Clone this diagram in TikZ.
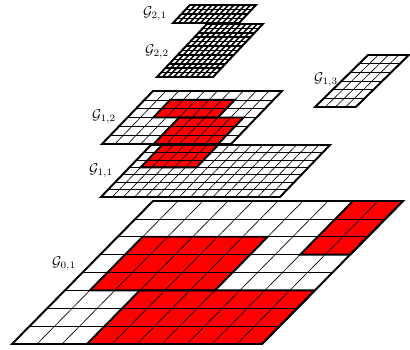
\documentclass[tikz,border=0pt]{standalone}
\usepackage{amsmath}
\begin{document}
\begin{tikzpicture}[
  x=0.25mm, y=0.25mm,
  thin grid/.style={line width=0.45pt},
  dense grid/.style={line width=1.1pt},
  rim/.style={line width=1.4pt},
  patch/.style={fill=red},
  lbl/.style={font=\normalsize, inner sep=0pt}
]
\useasboundingbox (0,0) rectangle (410,349);

\begin{scope}[shift={(12,5)}, xslant=0.986, x=6.25mm, y=4.469mm]
  \fill[patch] (8,5) rectangle (10,8);
  \fill[patch] (1,3) rectangle (6,6);
  \fill[patch] (3,0) rectangle (10,3);
  \foreach \i in {1,...,9} \draw[thin grid] (\i,0) -- (\i,8);
  \foreach \j in {1,...,7} \draw[thin grid] (0,\j) -- (10,\j);
  \draw[rim] (8,5) rectangle (10,8);
  \draw[rim] (1,3) rectangle (6,6);
  \draw[rim] (3,0) rectangle (10,3);
  \draw[rim] (0,0) rectangle (10,8);
\end{scope}

\begin{scope}[shift={(101,152)}, xslant=0.96, x=2.797mm, y=1.857mm]
  \fill[patch] (1,4) rectangle (6,7);
  \foreach \i in {1,...,15} \draw[thin grid] (\i,0) -- (\i,7);
  \foreach \j in {1,...,6} \draw[thin grid] (0,\j) -- (16,\j);
  \draw[rim] (1,4) rectangle (6,7);
  \draw[rim] (0,0) rectangle (16,7);
\end{scope}

\begin{scope}[shift={(102,205)}, xslant=0.962, x=3.225mm, y=2.208mm]
  \fill[patch] (2,3) rectangle (7,5);
  \fill[patch] (4,0) rectangle (9,3);
  \foreach \i in {1,...,9} \draw[thin grid] (\i,0) -- (\i,6);
  \foreach \j in {1,...,5} \draw[thin grid] (0,\j) -- (10,\j);
  \draw[rim] (2,3) rectangle (7,5);
  \draw[rim] (4,0) rectangle (9,3);
  \draw[rim] (0,0) rectangle (10,6);
\end{scope}

\begin{scope}[shift={(315,242)}, xslant=1.02, x=2.55mm, y=2.167mm]
  \foreach \i in {1,...,3} \draw[thin grid] (\i,0) -- (\i,6);
  \foreach \j in {1,...,5} \draw[thin grid] (0,\j) -- (4,\j);
  \draw[rim] (0,0) rectangle (4,6);
\end{scope}

\begin{scope}[shift={(157,272)}, xslant=0.94, x=1.4mm, y=1.104mm]
  \foreach \i in {1,...,9} \draw[dense grid] (\i,0) -- (\i,12);
  \foreach \j in {1,...,11} \draw[dense grid] (0,\j) -- (10,\j);
  \draw[rim] (0,0) rectangle (10,12);
\end{scope}

\begin{scope}[shift={(173,326)}, xslant=0.94, x=1.375mm, y=1.125mm]
  \foreach \i in {1,...,11} \draw[dense grid] (\i,0) -- (\i,4);
  \foreach \j in {1,...,3} \draw[dense grid] (0,\j) -- (12,\j);
  \draw[rim] (0,0) rectangle (12,4);
\end{scope}

\node[lbl] (g21) at (155,335) {$\mathcal{G}_{2,1}$};
\node[lbl] (g22) at (157,297) {$\mathcal{G}_{2,2}$};
\node[lbl] (g13) at (326,269) {$\mathcal{G}_{1,3}$};
\node[lbl] (g12) at (104,232) {$\mathcal{G}_{1,2}$};
\node[lbl] (g11) at (101,178) {$\mathcal{G}_{1,1}$};
\node[lbl] (g01) at (64,85) {$\mathcal{G}_{0,1}$};
\end{tikzpicture}
\end{document}
